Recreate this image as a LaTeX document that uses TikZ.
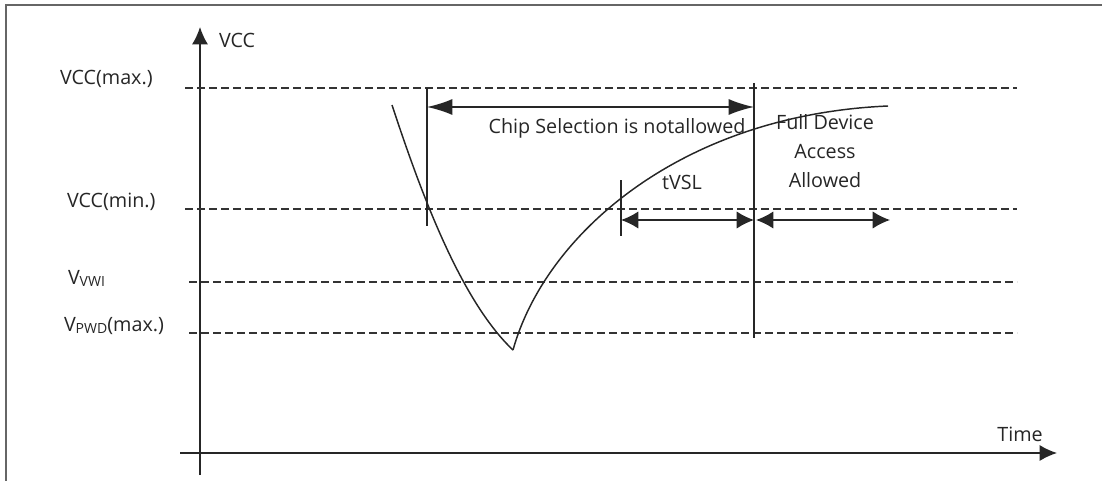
\documentclass[tikz,border=0pt]{standalone}
\usepackage{fontspec}
\setmainfont{Open Sans}
\usetikzlibrary{arrows.meta}
\begin{document}
\begin{tikzpicture}[x=0.75pt,y=-0.75pt,
  every node/.style={inner sep=0pt, outer sep=0pt, text=black!85, font=\fontsize{14.8}{17}\selectfont},
  guide/.style={draw=black!80, line width=1.1pt, dash pattern=on 6pt off 3pt},
  solidline/.style={draw=black!85, line width=1.1pt},
  axisarrow/.style={solidline, -{Latex[length=13pt,width=12pt]}},
  bigdim/.style={solidline, {Latex[length=19pt,width=12pt]}-{Latex[length=19pt,width=12pt]}},
  smalldim/.style={solidline, {Latex[length=13pt,width=13pt]}-{Latex[length=13pt,width=13pt]}},
  frameline/.style={draw=black!60, line width=1.3pt},
  lbl/.style={anchor=base west}]
\useasboundingbox (0,0) rectangle (1102,481);
% frame
\draw[frameline] (6,481) -- (6,5) -- (1102,5);
% axes
\coordinate (yb) at (200,475);
\coordinate (yt) at (200,27);
\coordinate (xl) at (180,453);
\coordinate (xr) at (1057,453);
\draw[axisarrow] (yb) -- (yt);
\draw[axisarrow] (xl) -- (xr);
\node[lbl] (vcc) at (219,48) {VCC};
\node[anchor=base] (time) at (1020,441) {Time};
% guide lines
\coordinate (gmaxl) at (185,88);  \coordinate (gmaxr) at (1017,88);
\coordinate (gminl) at (185,209); \coordinate (gminr) at (1017,209);
\coordinate (gvwil) at (189,282); \coordinate (gvwir) at (1017,282);
\coordinate (gpwdl) at (189,333); \coordinate (gpwdr) at (1017,333);
\draw[guide] (gmaxl) -- (gmaxr);
\draw[guide] (gminl) -- (gminr);
\draw[guide] (gvwil) -- (gvwir);
\draw[guide] (gpwdl) -- (gpwdr);
\node[lbl] (lmax) at (60,85) {VCC(max.)};
\node[lbl] (lmin) at (67,207) {VCC(min.)};
\node[lbl] (lvwi) at (68,284) {V\raisebox{-0.25ex}{\fontsize{10.5}{12}\selectfont VWI}};
\node[lbl] (lpwd) at (64,331) {V\raisebox{-0.25ex}{\fontsize{10.5}{12}\selectfont PWD}(max.)};
% vertical markers
\coordinate (v1t) at (427,88);  \coordinate (v1b) at (427,226);
\coordinate (v2t) at (754,83);  \coordinate (v2b) at (754,338);
\coordinate (v3t) at (621,180); \coordinate (v3b) at (621,236);
\draw[solidline] (v1t) -- (v1b);
\draw[solidline] (v2t) -- (v2b);
\draw[solidline] (v3t) -- (v3b);
% dimension arrows
\coordinate (c1) at (427,107); \coordinate (c2) at (754,107);
\draw[bigdim] (c1) -- (c2);
\coordinate (t1) at (621,220); \coordinate (t2) at (754,220);
\draw[smalldim] (t1) -- (t2);
\coordinate (f1) at (756,220); \coordinate (f2) at (890,220);
\draw[smalldim] (f1) -- (f2);
\node[anchor=base] (chip) at (617,134) {Chip Selection is notallowed};
\node[anchor=base] (tvsl) at (682,190) {tVSL};
\node[anchor=base] (full1) at (825,130) {Full Device};
\node[anchor=base] (full2) at (825,158) {Access};
\node[anchor=base] (full3) at (825,187) {Allowed};
% curve
\coordinate (cs) at (392,105);
\coordinate (cm) at (513,350);
\coordinate (ce) at (888,106);
\draw[solidline] (cs) .. controls (420,190) and (460,300) .. (cm);
\draw[solidline] (cm) .. controls (545,235) and (680,115) .. (ce);
\end{tikzpicture}
\end{document}
